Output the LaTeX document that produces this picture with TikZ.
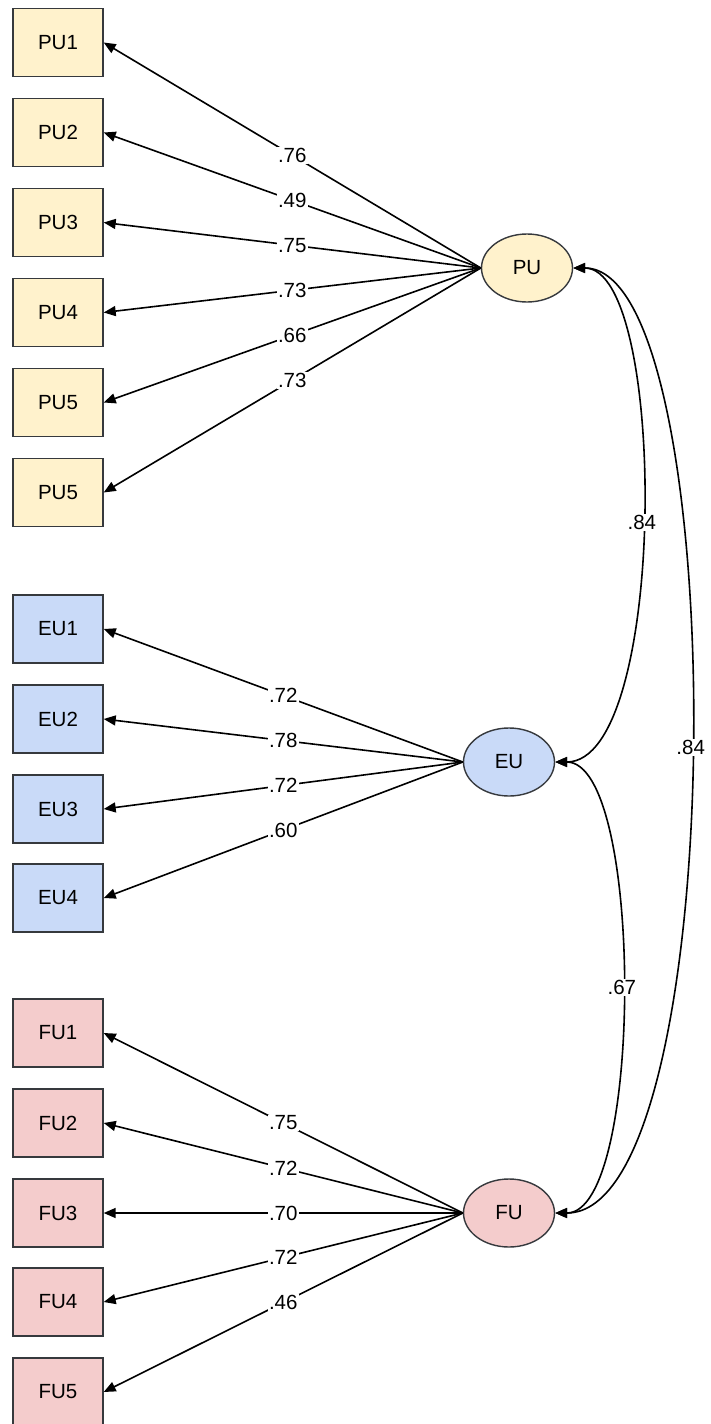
\documentclass[tikz,border=0pt]{standalone}
\usepackage{fontspec}
\setmainfont{Liberation Sans}
\usetikzlibrary{arrows.meta,shapes.geometric}
\definecolor{puc}{HTML}{FFF2CC}
\definecolor{euc}{HTML}{C9DAF8}
\definecolor{fuc}{HTML}{F4CCCC}
\definecolor{edge}{HTML}{36393D}
\begin{document}
\begin{tikzpicture}[x=1pt,y=-1pt,
  every node/.style={font=\fontsize{20.5}{24}\selectfont},
  ind/.style={draw=edge,line width=1.4pt,minimum width=90pt,minimum height=68pt,inner sep=0pt},
  lat/.style={draw=edge,line width=1.4pt,ellipse,minimum width=91pt,minimum height=68pt,inner sep=0pt},
  load/.style={line width=1.6pt,-{Triangle[length=12pt,width=10pt]}},
  cov/.style={line width=1.6pt,{Triangle[length=12pt,width=10pt]}-{Triangle[length=12pt,width=10pt]}},
  lbl/.style={fill=white,inner sep=1pt}]
\useasboundingbox (0,0) rectangle (710,1424);
% latent
\node[lat,fill=puc] (PU) at (527,268) {PU};
\node[lat,fill=euc] (EU) at (509,762) {EU};
\node[lat,fill=fuc] (FU) at (509,1213) {FU};
% PU indicators
\node[ind,fill=puc] (pu1) at (58,42.5) {PU1};
\node[ind,fill=puc] (pu2) at (58,132.5) {PU2};
\node[ind,fill=puc] (pu3) at (58,222.5) {PU3};
\node[ind,fill=puc] (pu4) at (58,312.5) {PU4};
\node[ind,fill=puc] (pu5) at (58,402.5) {PU5};
\node[ind,fill=puc] (pu6) at (58,492.5) {PU5};
% EU indicators
\node[ind,fill=euc] (eu1) at (58,629) {EU1};
\node[ind,fill=euc] (eu2) at (58,719) {EU2};
\node[ind,fill=euc] (eu3) at (58,809) {EU3};
\node[ind,fill=euc] (eu4) at (58,898) {EU4};
% FU indicators
\node[ind,fill=fuc] (fu1) at (58,1033) {FU1};
\node[ind,fill=fuc] (fu2) at (58,1123) {FU2};
\node[ind,fill=fuc] (fu3) at (58,1213) {FU3};
\node[ind,fill=fuc] (fu4) at (58,1302) {FU4};
\node[ind,fill=fuc] (fu5) at (58,1392) {FU5};
% loadings
\draw[load] (PU.west) -- node[lbl]{.76} (pu1.east);
\draw[load] (PU.west) -- node[lbl]{.49} (pu2.east);
\draw[load] (PU.west) -- node[lbl]{.75} (pu3.east);
\draw[load] (PU.west) -- node[lbl]{.73} (pu4.east);
\draw[load] (PU.west) -- node[lbl]{.66} (pu5.east);
\draw[load] (PU.west) -- node[lbl]{.73} (pu6.east);
\draw[load] (EU.west) -- node[lbl]{.72} (eu1.east);
\draw[load] (EU.west) -- node[lbl]{.78} (eu2.east);
\draw[load] (EU.west) -- node[lbl]{.72} (eu3.east);
\draw[load] (EU.west) -- node[lbl]{.60} (eu4.east);
\draw[load] (FU.west) -- node[lbl]{.75} (fu1.east);
\draw[load] (FU.west) -- node[lbl]{.72} (fu2.east);
\draw[load] (FU.west) -- node[lbl]{.70} (fu3.east);
\draw[load] (FU.west) -- node[lbl]{.72} (fu4.east);
\draw[load] (FU.west) -- node[lbl]{.46} (fu5.east);
% covariances
\draw[cov] (PU.east) .. controls (668,268) and (668,762) .. node[lbl,pos=0.51]{.84} (EU.east);
\draw[cov] (PU.east) .. controls (733,268) and (733,1213) .. node[lbl,pos=0.505]{.84} (FU.east);
\draw[cov] (EU.east) .. controls (644,762) and (644,1213) .. node[lbl]{.67} (FU.east);
\end{tikzpicture}
\end{document}
